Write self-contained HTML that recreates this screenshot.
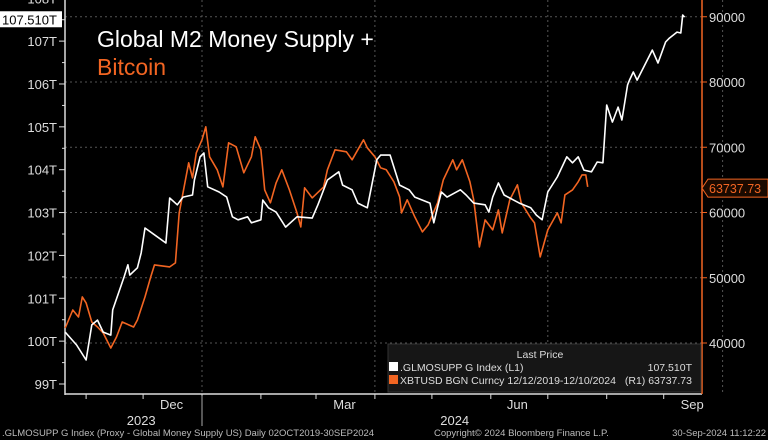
<!DOCTYPE html>
<html><head><meta charset="utf-8"><style>
html,body{margin:0;padding:0;background:#000;width:768px;height:440px;overflow:hidden}
svg{display:block;font-family:"Liberation Sans",sans-serif}
</style></head><body>
<svg id="chart" width="768" height="440" viewBox="0 0 768 440">
<rect width="768" height="440" fill="#000"/>
<g id="grid"></g>
<g id="axes"></g>
<g id="series"></g>
<text x="97" y="47" fill="#fff" font-size="23">Global M2 Money Supply +</text>
<text x="97" y="75" fill="#f26522" font-size="23">Bitcoin</text>
<g>
<rect x="388" y="344" width="313" height="48" fill="#161616" stroke="#333"/>
<text x="540" y="358" fill="#ddd" font-size="10.5" text-anchor="middle">Last Price</text>
<rect x="389" y="362" width="9" height="9" fill="#fff"/>
<text x="400" y="371" fill="#ddd" font-size="10.5">.GLMOSUPP G Index  (L1)</text>
<text x="692" y="371" fill="#ddd" font-size="10.5" text-anchor="end">107.510T</text>
<rect x="389" y="375" width="9" height="9" fill="#f26522"/>
<text x="400" y="384" fill="#ddd" font-size="10.5">XBTUSD BGN Curncy 12/12/2019-12/10/2024</text>
<text x="692" y="384" fill="#ddd" font-size="10.5" text-anchor="end">(R1) 63737.73</text>
</g>
<g fill="#bbb" font-size="9.5">
<text x="2" y="436">.GLMOSUPP G Index (Proxy - Global Money Supply US)  Daily 02OCT2019-30SEP2024</text>
<text x="434" y="436">Copyright© 2024 Bloomberg Finance L.P.</text>
<text x="766" y="436" text-anchor="end">30-Sep-2024 11:12:22</text>
</g>
</svg>
<script>
const m2Days=[-72,-66,-61,-58,-55,-52,-48,-47,-41,-39,-38,-34,-32,-30,-25,-19,-17,-13,-10,-5,-4,-1,1,3,9,13,16,19,24,26,31,32,35,39,44,50,58,61,66,72,74,79,82,87,92,94,99,102,104,109,112,116,120,122,124,126,129,136,139,143,149,151,153,156,159,164,167,173,176,179,182,187,192,195,198,201,205,208,211,213,216,219,221,224,225,227,229,233,237,240,244,246,250,252,253,254];
const m2Values=[100.21,99.91,99.56,100.38,100.49,100.21,100.14,100.73,101.50,101.78,101.54,101.71,102.06,102.64,102.48,102.29,103.34,103.18,103.36,103.41,103.76,104.30,104.39,103.60,103.48,103.36,102.90,102.83,102.90,102.76,102.83,103.29,103.11,103.01,102.66,102.90,102.87,103.18,103.76,103.95,103.64,103.53,103.22,103.11,104.23,104.34,104.34,103.92,103.64,103.53,103.36,103.29,103.22,102.76,103.13,103.48,103.36,103.53,103.41,103.22,103.18,103.01,103.36,103.69,103.41,103.29,103.22,103.11,102.94,102.83,103.48,103.83,104.30,104.16,104.30,103.99,103.95,104.18,104.16,105.51,105.11,105.46,105.16,105.98,106.09,106.28,106.09,106.44,106.79,106.49,106.98,107.07,107.21,107.19,107.61,107.56];
const btcDays=[-72,-68,-65,-63,-61,-58,-55,-52,-48,-45,-42,-36,-34,-30,-27,-25,-17,-14,-12,-7,-5,-3,0,2,4,8,11,14,18,22,26,28,31,33,36,39,42,46,50,52,54,58,64,66,70,76,79,85,87,91,94,97,101,104,105,108,112,116,119,124,127,132,134,137,141,143,146,149,153,156,158,162,166,168,173,175,178,182,187,189,191,195,198,200,202,203];
const btcValues=[42300,45060,43990,47060,46140,43220,42450,41530,39230,40920,43220,42450,43530,47060,50120,51970,51660,52270,59940,67610,65310,69150,71140,73130,68530,66540,63930,70680,70070,66080,68530,71600,69610,63470,61480,64540,66540,63470,59940,57790,63780,62240,63930,66540,69610,69300,68070,71140,69910,68530,66850,66540,64700,62400,59940,61940,59330,57030,58100,61480,65000,68070,66540,68070,64700,61940,54730,58870,57330,60400,56870,61940,64240,61480,59180,58410,53190,57330,59940,58410,62700,63470,64700,65770,65770,63930];
const leftTicks=[99,100,101,102,103,104,105,106,107,108];
const rightTicks=[40000,50000,60000,70000,80000,90000];
const monthTickDays=[-61,-31,0,31,60,91,121,152,182,213,243,274];
const monthLabels=["Dec","Mar","Jun","Sep"];
const monthLabelDays=[-16,75,166,258];
const yearLabels=["2023","2024"];
const yearLabelDays=[-32,133];
const gridDays=[0,91,182,274];

const NS="http://www.w3.org/2000/svg";
const xS=d=>202+d*1.9;
const yL=v=>384-(v-99)*42.86;
const yR=v=>343-(v-40000)*0.006525;
function mk(tag,attrs,parent,txt){const e=document.createElementNS(NS,tag);for(const k in attrs)e.setAttribute(k,attrs[k]);if(txt!==undefined)e.textContent=txt;parent.appendChild(e);return e;}
const grid=document.getElementById('grid'),axes=document.getElementById('axes'),series=document.getElementById('series');
rightTicks.forEach(v=>{const l=mk('line',{x1:65,x2:702,y1:yR(v),y2:yR(v),stroke:'#555','stroke-dasharray':'2,3','stroke-width':1},grid);

});
gridDays.forEach(d=>{const l=mk('line',{x1:xS(d),x2:xS(d),y1:0,y2:394,stroke:'#555','stroke-dasharray':'2,3','stroke-width':1},grid);

});
const la=mk('line',{x1:65,x2:65,y1:0,y2:395,stroke:'#ddd','stroke-width':1.5},axes);


const ba=mk('line',{x1:65,x2:702,y1:394,y2:394,stroke:'#ddd','stroke-width':1.5},axes);


const ra=mk('line',{x1:702,x2:702,y1:0,y2:394,stroke:'#f26522','stroke-width':1.5},axes);


leftTicks.forEach(v=>{const y=yL(v);
const t=mk('line',{x1:59,x2:65,y1:y,y2:y,stroke:'#ddd'},axes);


const tx=mk('text',{x:57,y:y+5,fill:'#ddd','font-size':13,'text-anchor':'end'},axes,v+'T');


const m=mk('line',{x1:62,x2:65,y1:y-21.4,y2:y-21.4,stroke:'#ddd'},axes);

});
rightTicks.forEach(v=>{const y=yR(v);
const t=mk('line',{x1:702,x2:707,y1:y,y2:y,stroke:'#f26522'},axes);


const tx=mk('text',{x:709,y:y+5,fill:'#ddd','font-size':13},axes,String(v));

});
monthTickDays.forEach(d=>{const x=xS(d);if(x<65||x>702)return;
const t=mk('line',{x1:x,x2:x,y1:394,y2:399,stroke:'#ddd'},axes);

});
monthLabels.forEach((s,i)=>{const t=mk('text',{x:xS(monthLabelDays[i]),y:409,fill:'#ddd','font-size':13,'text-anchor':'middle'},axes,s);

});
yearLabels.forEach((s,i)=>{const t=mk('text',{x:xS(yearLabelDays[i]),y:425,fill:'#ddd','font-size':13,'text-anchor':'middle'},axes,s);

});
const sep=mk('line',{x1:xS(0),x2:xS(0),y1:396,y2:426,stroke:'#aaa'},axes);


function path(days,vals,yf){return days.map((d,i)=>(i?'L':'M')+xS(d).toFixed(1)+','+yf(vals[i]).toFixed(1)).join('');}
const pb=mk('path',{d:path(btcDays,btcValues,yR),fill:'none',stroke:'#f26522','stroke-width':1.6,'stroke-linejoin':'round'},series);


const pm=mk('path',{d:path(m2Days,m2Values,yL),fill:'none',stroke:'#fff','stroke-width':1.6,'stroke-linejoin':'round'},series);


// last value tags
const lastM2=m2Values[m2Values.length-1], lastBtc=btcValues[btcValues.length-1];
const yb=yL(107.51);
const tagL=mk('rect',{x:0,y:yb-8,width:62,height:16,fill:'#fff'},axes);


const tagLt=mk('text',{x:2,y:yb+5,fill:'#000','font-size':13},axes,'107.510T');


const yo=yR(63737.73);
const tagR=mk('path',{d:`M702,${yo} L708,${yo-9} L768,${yo-9} L768,${yo+9} L708,${yo+9} Z`,fill:'#1a0a00',stroke:'#f26522'},axes);


const tagRt=mk('text',{x:709,y:yo+5,fill:'#f26522','font-size':12.5},axes,'63737.73');


</script>
</body></html>
